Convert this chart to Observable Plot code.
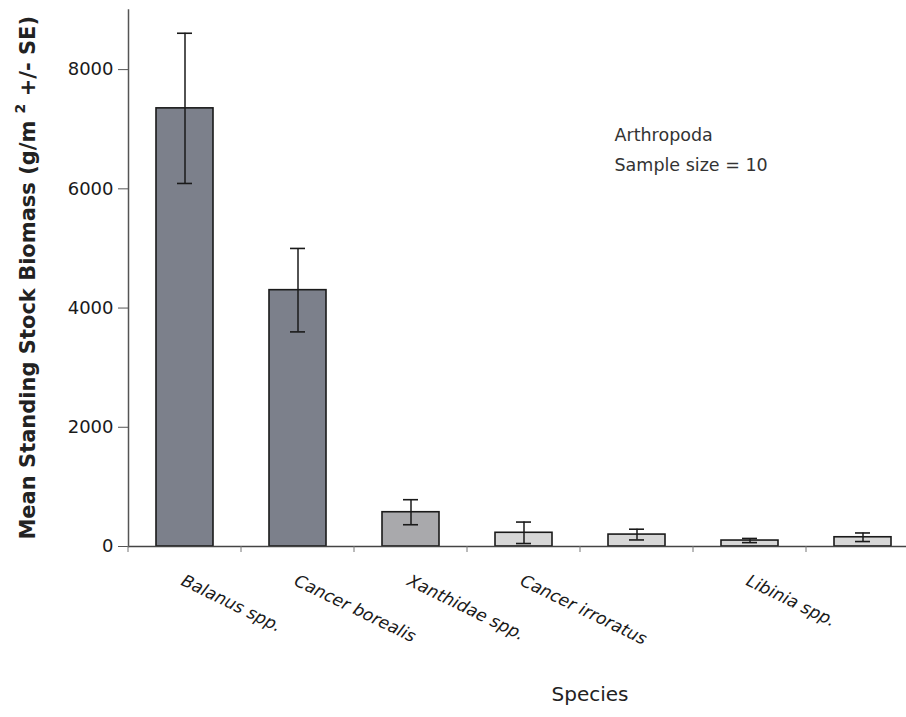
<!DOCTYPE html>
<html>
<head>
<meta charset="utf-8">
<script src="https://cdn.jsdelivr.net/npm/d3@7"></script>
<script src="https://cdn.jsdelivr.net/npm/@observablehq/plot@0.6"></script>
<style>
  html, body { margin: 0; padding: 0; background: #fff; }
  #chart svg { display: block; }
</style>
</head>
<body>
<div id="chart"></div>
<script>
// ---- data ----
const species = ["Balanus spp.", "Cancer borealis", "Xanthidae spp.", "Cancer irroratus", "", "Libinia spp.", ""];
const biomass = [7350, 4300, 575, 230, 200, 100, 155];
const stdErr  = [1260, 700, 210, 180, 90, 35, 72];
const yTicks  = [0, 2000, 4000, 6000, 8000];
const notes   = ["Arthropoda", "Sample size = 10"];
const yTitle  = ["Mean Standing Stock Biomass (g/m ", "2", " +/- SE)"];
const xTitle  = "Species";

const rows = species.map((label, i) => ({i, label, value: biomass[i], se: stdErr[i]}));
const shades = ["#7c808b", "#7c808b", "#a9a9ac", "#d7d7d7", "#d7d7d7", "#d7d7d7", "#d7d7d7"];
const ink = "#1a1a1a";

const plot = Plot.plot({
  width: 906,
  height: 717,
  marginLeft: 128,
  marginRight: -13,
  marginTop: 9.5,
  marginBottom: 171,
  style: {fontFamily: "'DejaVu Sans', sans-serif", background: "#fff", color: ink, overflow: "visible"},
  x: {domain: d3.range(species.length), paddingInner: 0.5, paddingOuter: 0.25, axis: null},
  y: {domain: [0, 9000], axis: null},
  color: {type: "ordinal", domain: d3.range(species.length), range: shades},
  marks: [
    Plot.axisY({ticks: yTicks, tickSize: 10, tickPadding: 5, fontSize: 18, label: null,
                tickFormat: d3.format("d"), stroke: "#555", fill: ink}),
    Plot.barY(rows, {x: "i", y: "value", fill: "i", stroke: ink, strokeWidth: 1.6}),
    Plot.ruleX(rows, {x: "i", y1: d => d.value - d.se, y2: d => d.value + d.se, stroke: ink, strokeWidth: 1.5}),
    Plot.tickY(rows, {x: "i", y: d => d.value + d.se, insetLeft: 21, insetRight: 21, stroke: ink, strokeWidth: 1.6}),
    Plot.tickY(rows, {x: "i", y: d => d.value - d.se, insetLeft: 21, insetRight: 21, stroke: ink, strokeWidth: 1.6}),
    Plot.ruleY([0], {stroke: "#444", strokeWidth: 1.5}),
    Plot.frame({anchor: "left", stroke: "#555", strokeWidth: 1.5}),
    Plot.text(rows.filter(d => d.label), {x: "i", y: () => 0, text: "label", rotate: 26,
      textAnchor: "start", lineAnchor: "bottom", dx: -5, dy: 38, fontSize: 17, fontStyle: "italic", fill: ink}),
    Plot.text([notes.join("\n")], {frameAnchor: "top-left", textAnchor: "start", lineAnchor: "top",
      dx: 486, dy: 110, fontSize: 17.5, lineHeight: 1.72, fill: "#333"}),
    Plot.text([xTitle], {frameAnchor: "bottom", dx: 66, dy: 154, fontSize: 20, fill: "#222"})
  ]
});

// boundary ticks under the category axis, placed through the x scale
const xs = plot.scale("x"), ys = plot.scale("y");
const svg = d3.select(plot);
const y0 = ys.apply(0);
const gap = (xs.step - xs.bandwidth) / 2;
svg.append("g").attr("stroke", "#777").attr("stroke-width", 1)
  .selectAll("line").data(xs.domain).join("line")
  .attr("x1", d => xs.apply(d) - gap).attr("x2", d => xs.apply(d) - gap)
  .attr("y1", y0).attr("y2", y0 + 6);

// y title with superscript
const mid = (ys.apply(ys.domain[1]) + y0) / 2;
const t = svg.append("text")
  .attr("transform", `translate(35,${mid}) rotate(-90)`)
  .attr("text-anchor", "middle")
  .attr("font-family", "'DejaVu Sans', sans-serif")
  .attr("font-weight", "bold")
  .attr("font-size", 21)
  .attr("fill", "#222");
t.append("tspan").text(yTitle[0]);
t.append("tspan").attr("dy", -10).attr("font-size", 14).text(yTitle[1]);
t.append("tspan").attr("dy", 10).text(yTitle[2]);

document.getElementById("chart").append(plot);
</script>
</body>
</html>
